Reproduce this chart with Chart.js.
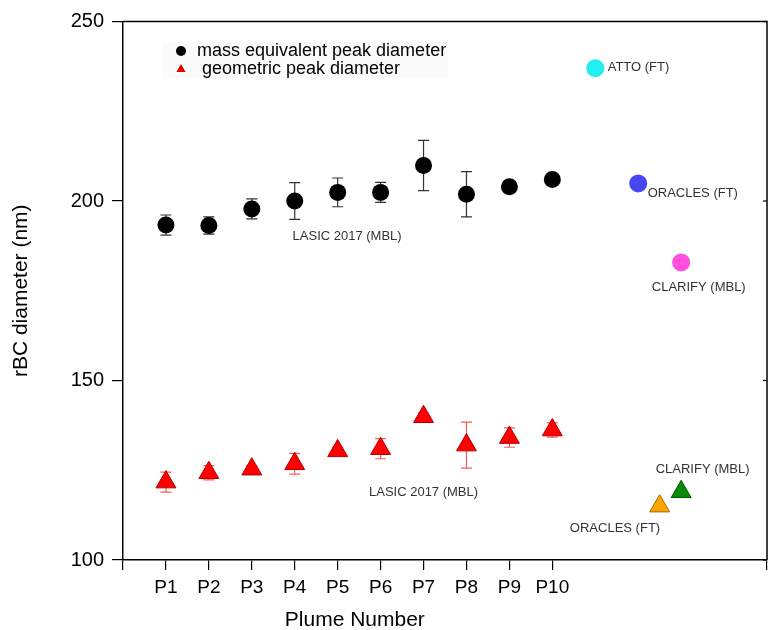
<!DOCTYPE html>
<html><head><meta charset="utf-8">
<script src="https://cdn.jsdelivr.net/npm/chart.js@4.4.1/dist/chart.umd.min.js"></script>
<style>html,body{margin:0;padding:0;background:#fff;overflow:hidden}#wrap{width:770px;height:630px;position:relative}</style>
</head><body><div id="wrap"><canvas id="c"></canvas></div>
<script>
const plumeLabels = ['P1','P2','P3','P4','P5','P6','P7','P8','P9','P10'];
const plumeNumbers = [1,2,3,4,5,6,7,8,9,10];
const massDiameter = [193.3,193.2,197.8,200.0,202.4,202.4,209.9,201.9,204.0,206.0];
const massError    = [2.8,2.4,2.8,5.1,4.0,2.8,7.0,6.3,1.0,1.0];
const geoDiameter  = [121.7,124.3,125.3,126.8,130.4,131.0,139.9,132.0,134.1,136.2];
const geoError     = [2.8,2.0,1.0,2.9,1.0,2.8,1.0,6.4,2.7,2.0];
const refMassNames = ['ATTO (FT)','ORACLES (FT)','CLARIFY (MBL)'];
const refMassX     = [11,12,13];
const refMassY     = [237.0,204.9,182.9];
const refGeoNames  = ['ORACLES (FT)','CLARIFY (MBL)'];
const refGeoX      = [12.5,13];
const refGeoY      = [115.0,119.0];
const xTickValues  = [0,1,2,3,4,5,6,7,8,9,10,15];
const yTickValues  = [100,150,200,250];
const legendLabels = ['mass equivalent peak diameter',' geometric peak diameter'];
const notes = [
  {text:'LASIC 2017 (MBL)', x:5.22, y:190.0, align:'center'},
  {text:'LASIC 2017 (MBL)', x:7.0,  y:118.9, align:'center'},
  {text:'ATTO (FT)',        x:11.29,y:237.1, align:'left'},
  {text:'ORACLES (FT)',     x:12.22,y:202.0, align:'left'},
  {text:'CLARIFY (MBL)',    x:13.41,y:176.0, align:'center'},
  {text:'CLARIFY (MBL)',    x:13.5, y:125.3, align:'center'},
  {text:'ORACLES (FT)',     x:11.46,y:108.9, align:'center'}
];
const FONT = "'Liberation Sans', Arial, Helvetica, sans-serif";

function pts(xs, ys){ return xs.map((v,i)=>({x:v, y:ys[i]})); }

const decor = {
  id:'decor',
  beforeDatasetsDraw(chart){
    const {ctx, scales:{x,y}} = chart;
    function bars(xs, ys, es, color){
      ctx.save(); ctx.strokeStyle=color; ctx.lineWidth=1.2;
      xs.forEach((xv,i)=>{
        const px=x.getPixelForValue(xv);
        const t=y.getPixelForValue(ys[i]+es[i]);
        const b=y.getPixelForValue(ys[i]-es[i]);
        ctx.beginPath();
        ctx.moveTo(px,t); ctx.lineTo(px,b);
        ctx.moveTo(px-5.5,t); ctx.lineTo(px+5.5,t);
        ctx.moveTo(px-5.5,b); ctx.lineTo(px+5.5,b);
        ctx.stroke();
      });
      ctx.restore();
    }
    bars(plumeNumbers, massDiameter, massError, '#333333');
    bars(plumeNumbers, geoDiameter, geoError, '#ff5a5a');
  },
  afterDraw(chart){
    const {ctx, chartArea:a, scales:{x,y}} = chart;
    ctx.save();
    ctx.strokeStyle='#000'; ctx.lineWidth=1.5;
    ctx.beginPath(); ctx.moveTo(a.left,a.top); ctx.lineTo(a.right,a.top); ctx.lineTo(a.right,a.bottom); ctx.stroke();
    ctx.lineWidth=1.2;
    yTickValues.forEach(v=>{ const py=y.getPixelForValue(v); ctx.beginPath(); ctx.moveTo(a.right-4,py); ctx.lineTo(a.right,py); ctx.stroke(); });
    ctx.fillStyle='#333'; ctx.font='13px '+FONT; ctx.textBaseline='middle';
    notes.forEach(n=>{ ctx.textAlign=n.align; ctx.fillText(n.text, x.getPixelForValue(n.x), y.getPixelForValue(n.y)); });
    const lx=a.left+58, ly1=a.top+29.5, ly2=a.top+47.5;
    ctx.fillStyle='rgba(0,0,0,0.015)';
    ctx.fillRect(a.left+40, a.top+20.5, 285, 37);
    ctx.fillStyle='#000'; ctx.beginPath(); ctx.arc(lx,ly1,5,0,Math.PI*2); ctx.fill();
    ctx.fillStyle='#e00000'; ctx.beginPath(); ctx.moveTo(lx,ly2-5); ctx.lineTo(lx+4.6,ly2+3); ctx.lineTo(lx-4.6,ly2+3); ctx.closePath(); ctx.fill();
    ctx.fillStyle='#000'; ctx.font='18px '+FONT; ctx.textAlign='left';
    ctx.fillText(legendLabels[0], lx+16, ly1);
    ctx.fillText(legendLabels[1], lx+16, ly2);
    ctx.font='21px '+FONT; ctx.textAlign='center';
    ctx.fillText('Plume Number', x.getPixelForValue(5.4), chart.height-10);
    ctx.restore();
  }
};

new Chart(document.getElementById('c'), {
  type:'scatter',
  data:{datasets:[
    {label:legendLabels[0], data:pts(plumeNumbers, massDiameter), pointStyle:'circle', pointRadius:8.5, backgroundColor:'#000', borderColor:'#000', borderWidth:0},
    {label:legendLabels[1], data:pts(plumeNumbers, geoDiameter), pointStyle:'triangle', pointRadius:11.5, backgroundColor:'#ff0000', borderColor:'#b00000', borderWidth:1},
    {label:'reference mass', data:pts(refMassX, refMassY), pointStyle:'circle', pointRadius:9, backgroundColor:['#22eef0','#4646f2','#ff4fdc'], borderWidth:0},
    {label:'reference geometric', data:pts(refGeoX, refGeoY), pointStyle:'triangle', pointRadius:11.5, backgroundColor:['#ffa500','#0a8a0a'], borderColor:['#a06a00','#005500'], borderWidth:1}
  ]},
  options:{
    responsive:true, maintainAspectRatio:false, animation:false, events:[],
    layout:{autoPadding:false, padding:{top:21.5,right:3,left:0,bottom:0}},
    plugins:{legend:{display:false}, tooltip:{enabled:false}},
    scales:{
      x:{type:'linear', min:0, max:15,
        afterBuildTicks:(s)=>{ s.ticks = xTickValues.map(v=>({value:v})); },
        afterFit:(s)=>{ s.height = 70; s.paddingLeft = 0; s.paddingRight = 0; },
        ticks:{autoSkip:false, maxRotation:0, color:'#000', padding:6, font:{family:FONT,size:19},
          callback:(v)=> (v>=1 && v<=10) ? plumeLabels[v-1] : ''},
        grid:{display:true, drawOnChartArea:false, drawTicks:true, tickLength:10, color:'#000', lineWidth:1.2},
        border:{display:true, color:'#000', width:1.5},
        title:{display:false}
      },
      y:{type:'linear', min:100, max:250,
        afterBuildTicks:(s)=>{ s.ticks = yTickValues.map(v=>({value:v})); },
        afterFit:(s)=>{ s.width = 123; },
        ticks:{color:'#000', padding:8, font:{family:FONT,size:20}},
        grid:{display:true, drawOnChartArea:false, drawTicks:true, tickLength:11, color:'#000', lineWidth:1.2},
        border:{display:true, color:'#000', width:1.5},
        title:{display:true, text:'rBC diameter (nm)', color:'#000', font:{family:FONT,size:21}, padding:{top:8.5,bottom:0}}
      }
    }
  },
  plugins:[decor]
});
</script></body></html>
